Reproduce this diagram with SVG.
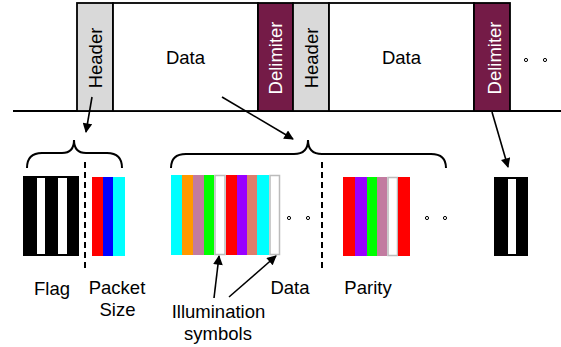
<svg xmlns="http://www.w3.org/2000/svg" width="561" height="347" viewBox="0 0 561 347">
  <defs>
    <marker id="arrow" viewBox="0 0 10 10" refX="9" refY="5" markerWidth="6.5" markerHeight="6" orient="auto" markerUnits="strokeWidth">
      <path d="M0,0 L10,5 L0,10 z" fill="#000"/>
    </marker>
    <style>
      .frame { stroke: #000; stroke-width: 1.8; }
      .hdr { fill: #D9D9D9; }
      .dlm { fill: #741B47; }
      .dat { fill: #FFFFFF; }
      text { font-family: "Liberation Sans", Arial, sans-serif; font-size: 18.5px; fill: #000; }
      .vt { text-anchor: middle; }
      .wt { fill: #FFFFFF; }
      .lbl { text-anchor: middle; }
      .brace { fill: none; stroke: #000; stroke-width: 2; }
      .dash { stroke: #000; stroke-width: 2; stroke-dasharray: 6 4; }
      .ptr { stroke: #000; stroke-width: 1.6; fill: none; marker-end: url(#arrow); }
      .dot { fill: #fff; stroke: #000; stroke-width: 1; }
      .blank { fill: #fff; stroke: #BBBBBB; stroke-width: 1.5; }
    </style>
  </defs>

  <!-- base line of the stream -->
  <line x1="13" y1="111" x2="561" y2="111" stroke="#000" stroke-width="1.8"/>

  <!-- packet stream -->
  <g id="header1">
    <rect class="frame hdr" x="77" y="3" width="36" height="108"/>
    <text class="vt" transform="translate(102,58) rotate(-90)">Header</text>
  </g>
  <g id="data1">
    <rect class="frame dat" x="113" y="3" width="145" height="108"/>
    <text class="vt" x="185.5" y="64">Data</text>
  </g>
  <g id="delimiter1">
    <rect class="frame dlm" x="258" y="3" width="35" height="108"/>
    <text class="vt wt" transform="translate(282,58) rotate(-90)">Delimiter</text>
  </g>
  <g id="header2">
    <rect class="frame hdr" x="293" y="3" width="36" height="108"/>
    <text class="vt" transform="translate(318,58) rotate(-90)">Header</text>
  </g>
  <g id="data2">
    <rect class="frame dat" x="329" y="3" width="145" height="108"/>
    <text class="vt" x="401.5" y="64">Data</text>
  </g>
  <g id="delimiter2">
    <rect class="frame dlm" x="474" y="3" width="36" height="108"/>
    <text class="vt wt" transform="translate(501,58) rotate(-90)">Delimiter</text>
  </g>
  <g id="stream-more">
    <circle class="dot" cx="526" cy="60" r="1.6"/>
    <circle class="dot" cx="545" cy="60" r="1.6"/>
  </g>

  <!-- header expansion: flag + packet size -->
  <g id="flag">
    <rect x="23" y="176" width="56" height="80" fill="#000"/>
    <rect x="37" y="178" width="8" height="76" fill="#fff"/>
    <rect x="58" y="178" width="9" height="76" fill="#fff"/>
    <text class="lbl" x="52" y="295">Flag</text>
  </g>
  <g id="packet-size">
    <rect x="92" y="177" width="11" height="79" fill="#FF0000"/>
    <rect x="103" y="177" width="10" height="79" fill="#0000FF"/>
    <rect x="113" y="177" width="12" height="79" fill="#00FFFF"/>
    <text class="lbl" x="117" y="294">Packet</text>
    <text class="lbl" x="117.5" y="316">Size</text>
  </g>

  <!-- data expansion -->
  <g id="data-symbols">
    <rect x="171" y="175" width="11" height="80" fill="#00FFFF"/>
    <rect x="182" y="175" width="11" height="80" fill="#FF9900"/>
    <rect x="193" y="175" width="11" height="80" fill="#C27BA0"/>
    <rect x="204" y="175" width="10" height="80" fill="#00FF00"/>
    <rect class="blank" x="215" y="175.5" width="10" height="79"/>
    <rect x="226" y="175" width="11" height="80" fill="#FF0000"/>
    <rect x="237" y="175" width="10" height="80" fill="#9900FF"/>
    <rect x="247" y="175" width="10" height="80" fill="#DD7E6B"/>
    <rect x="257" y="175" width="12" height="80" fill="#00FFFF"/>
    <rect class="blank" x="270" y="175.5" width="9.5" height="79"/>
    <circle class="dot" cx="289" cy="218" r="1.6"/>
    <circle class="dot" cx="308" cy="218" r="1.6"/>
    <text class="lbl" x="290" y="294">Data</text>
  </g>
  <g id="parity">
    <rect x="343" y="177" width="12" height="79" fill="#FF0000"/>
    <rect x="355" y="177" width="12" height="79" fill="#9900FF"/>
    <rect x="367" y="177" width="10" height="79" fill="#00FF00"/>
    <rect x="377" y="177" width="10" height="79" fill="#C27BA0"/>
    <rect class="blank" x="388" y="177.5" width="9.5" height="78"/>
    <rect x="398" y="177" width="12" height="79" fill="#FF0000"/>
    <circle class="dot" cx="427" cy="218" r="1.6"/>
    <circle class="dot" cx="445" cy="218" r="1.6"/>
    <text class="lbl" x="368" y="294">Parity</text>
  </g>
  <g id="illumination-label">
    <text class="lbl" x="218.5" y="318">Illumination</text>
    <text class="lbl" x="218" y="340">symbols</text>
  </g>

  <!-- delimiter expansion -->
  <g id="delimiter-flag">
    <rect x="494" y="177" width="34" height="79" fill="#000"/>
    <rect x="508" y="179" width="8" height="75" fill="#fff"/>
  </g>

  <!-- connectors -->
  <g id="connectors">
    <path class="brace" d="M27,168 Q27,153 42,153 L62,153 Q74,153 74,140 Q74,153 86,153 L107,153 Q122,153 122,168"/>
    <path class="brace" d="M171,168 Q171,154 186,154 L294,154 Q308,154 308,140 Q308,154 322,154 L431,154 Q446,154 446,168"/>
    <line class="dash" x1="85" y1="162" x2="85" y2="268"/>
    <line class="dash" x1="322" y1="162" x2="322" y2="268"/>
    <line class="ptr" x1="92" y1="97" x2="86" y2="132"/>
    <line class="ptr" x1="222" y1="97" x2="293" y2="139"/>
    <line class="ptr" x1="492" y1="112" x2="508" y2="167"/>
    <line class="ptr" x1="214" y1="298" x2="219" y2="256"/>
    <line class="ptr" x1="229" y1="297" x2="276" y2="256"/>
  </g>
</svg>
